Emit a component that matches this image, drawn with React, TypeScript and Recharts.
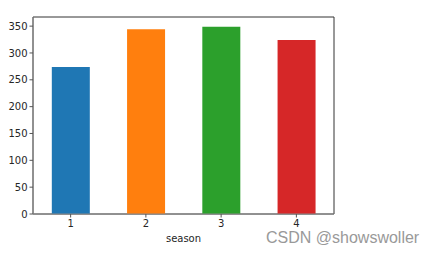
import React from 'react';
import { BarChart, Bar, XAxis, YAxis, Cell, ReferenceArea } from 'recharts';

const seasons = ['1', '2', '3', '4'];
const counts = [274, 344, 349, 324];
const barColors = ['#1f77b4', '#ff7f0e', '#2ca02c', '#d62728'];
const yTicks = [0, 50, 100, 150, 200, 250, 300, 350];
const yMax = 367;

const data = seasons.map((s, i) => ({ season: s, count: counts[i] }));

const tickStyle = { fontFamily: 'DejaVu Sans', fontSize: 10, fill: '#262626' };

const App: React.FC = () => {
  return (
    <div style={{ position: 'fixed', left: 0, top: 0, width: 435, height: 254, background: '#fff' }}>
      <BarChart
        width={435}
        height={254}
        data={data}
        margin={{ top: 17, right: 101, left: 0, bottom: 0 }}
        barCategoryGap="25%"
      >
        <XAxis
          dataKey="season"
          height={40}
          tickSize={3.5}
          tick={tickStyle}
          tickLine={{ stroke: '#555' }}
          axisLine={{ stroke: '#888' }}
          label={{ value: 'season', position: 'insideBottom', offset: 12, style: { fontFamily: 'DejaVu Sans', fontSize: 10, fill: '#262626' } }}
        />
        <YAxis
          width={33}
          domain={[0, yMax]}
          ticks={yTicks}
          tickSize={3.5}
          tick={tickStyle}
          tickLine={{ stroke: '#555' }}
          axisLine={{ stroke: '#888' }}
        />
        {/* frame for top / right spines */}
        <ReferenceArea
          x1={seasons[0]}
          x2={seasons[seasons.length - 1]}
          y1={0}
          y2={yMax}
          fill="none"
          stroke="#333"
          strokeWidth={1}
          ifOverflow="visible"
        />
        <Bar dataKey="count" isAnimationActive={false}>
          {data.map((d, i) => (
            <Cell key={d.season} fill={barColors[i]} />
          ))}
        </Bar>
      </BarChart>
      <div
        style={{
          position: 'absolute',
          left: 266,
          top: 229,
          fontFamily: 'Liberation Sans',
          fontSize: 16,
          color: '#999',
          whiteSpace: 'nowrap',
        }}
      >
        CSDN @showswoller
      </div>
    </div>
  );
};

export default App;
